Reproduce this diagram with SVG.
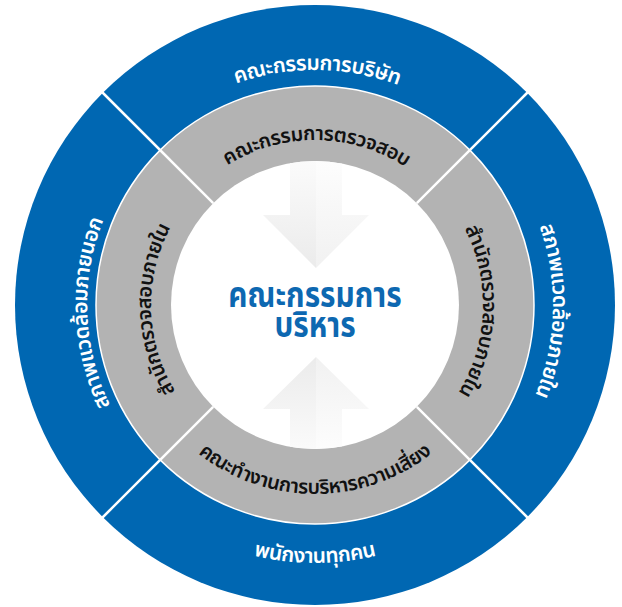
<svg xmlns="http://www.w3.org/2000/svg" width="622" height="607" viewBox="0 0 622 607">
  <defs>
    <style>
      .th { font-family: 'Noto Sans Thai', 'Noto Sans Thai UI', 'Noto Sans', 'DejaVu Sans', sans-serif; font-weight: 600; }
      .outer { fill: #ffffff; font-size: 21px; letter-spacing: -0.4px; }
      .inner { fill: #111111; font-size: 20px; letter-spacing: -0.4px; }
      .center { fill: #0d68b1; font-size: 32px; font-weight: 700; }
      .divider { stroke: #ffffff; stroke-width: 2.5; fill: none; }
    </style>
    <clipPath id="whiteClip"><circle cx="315" cy="305" r="144"/></clipPath>
    <linearGradient id="gDownL" gradientUnits="userSpaceOnUse" x1="0" y1="160" x2="0" y2="268">
      <stop offset="0" stop-color="#fbfbfb"/><stop offset="1" stop-color="#ebebeb"/>
    </linearGradient>
    <linearGradient id="gDownR" gradientUnits="userSpaceOnUse" x1="0" y1="160" x2="0" y2="268">
      <stop offset="0" stop-color="#fdfdfd"/><stop offset="1" stop-color="#f1f1f1"/>
    </linearGradient>
    <linearGradient id="gUpL" gradientUnits="userSpaceOnUse" x1="0" y1="452" x2="0" y2="357">
      <stop offset="0" stop-color="#fbfbfb"/><stop offset="1" stop-color="#ebebeb"/>
    </linearGradient>
    <linearGradient id="gUpR" gradientUnits="userSpaceOnUse" x1="0" y1="452" x2="0" y2="357">
      <stop offset="0" stop-color="#fdfdfd"/><stop offset="1" stop-color="#f1f1f1"/>
    </linearGradient>
    <path id="pTopOuter" d="M80,305 A235,235 0 0 1 550,305"/>
    <path id="pLeftOuter" d="M315,533 A228,228 0 0 1 315,77"/>
    <path id="pRightOuter" d="M315,67 A238,238 0 0 1 315,543"/>
    <path id="pBottomOuter" d="M57,305 A258,258 0 0 0 573,305"/>
    <path id="pTopInner" d="M150,305 A165,165 0 0 1 480,305"/>
    <path id="pLeftInner" d="M315,469 A164,164 0 0 1 315,141"/>
    <path id="pRightInner" d="M315,137 A168,168 0 0 1 315,473"/>
    <path id="pBottomInner" d="M126,305 A189,189 0 0 0 504,305"/>
  </defs>

  <g id="rings">
    <circle cx="315" cy="305" r="300" fill="#0067b2"/>
    <circle cx="315" cy="305" r="219" fill="#b3b3b3" stroke="#ffffff" stroke-width="1.5"/>
    <circle cx="315" cy="305" r="144" fill="#ffffff"/>
  </g>

  <g id="arrows" clip-path="url(#whiteClip)">
    <polygon points="290,150 316,150 316,268 263,215 290,215" fill="url(#gDownL)"/>
    <polygon points="316,150 342,150 342,215 369,215 316,268" fill="url(#gDownR)"/>
    <polygon points="290,460 316,460 316,357 263,409 290,409" fill="url(#gUpL)"/>
    <polygon points="316,460 342,460 342,409 369,409 316,357" fill="url(#gUpR)"/>
  </g>

  <g id="connectors">
    <line class="divider" x1="213.2" y1="203.2" x2="99" y2="89"/>
    <line class="divider" x1="416.8" y1="203.2" x2="531" y2="89"/>
    <line class="divider" x1="213.2" y1="406.8" x2="99" y2="521"/>
    <line class="divider" x1="416.8" y1="406.8" x2="531" y2="521"/>
  </g>

  <g id="node-board">
    <text class="th outer"><textPath href="#pTopOuter" startOffset="50.3%" text-anchor="middle">คณะกรรมการบริษัท</textPath></text>
  </g>
  <g id="node-external">
    <text class="th outer"><textPath href="#pLeftOuter" startOffset="48.8%" text-anchor="middle">สภาพแวดล้อมภายนอก</textPath></text>
  </g>
  <g id="node-internal-env">
    <text class="th outer"><textPath href="#pRightOuter" startOffset="50.8%" text-anchor="middle">สภาพแวดล้อมภายใน</textPath></text>
  </g>
  <g id="node-employees">
    <text class="th outer"><textPath href="#pBottomOuter" startOffset="50%" text-anchor="middle">พนักงานทุกคน</textPath></text>
  </g>
  <g id="node-audit-committee">
    <text class="th inner"><textPath href="#pTopInner" startOffset="50.3%" text-anchor="middle">คณะกรรมการตรวจสอบ</textPath></text>
  </g>
  <g id="node-internal-audit-left">
    <text class="th inner"><textPath href="#pLeftInner" startOffset="49%" text-anchor="middle">สำนักตรวจสอบภายใน</textPath></text>
  </g>
  <g id="node-internal-audit-right">
    <text class="th inner"><textPath href="#pRightInner" startOffset="51.2%" text-anchor="middle">สำนักตรวจสอบภายใน</textPath></text>
  </g>
  <g id="node-risk">
    <text class="th inner"><textPath href="#pBottomInner" startOffset="50%" text-anchor="middle">คณะทำงานการบริหารความเสี่ยง</textPath></text>
  </g>
  <g id="node-management">
    <text class="th center" transform="translate(315,307) scale(0.93,1.1)" text-anchor="middle"><tspan x="0" y="0">คณะกรรมการ</tspan><tspan x="0" y="27.5">บริหาร</tspan></text>
  </g>
</svg>
